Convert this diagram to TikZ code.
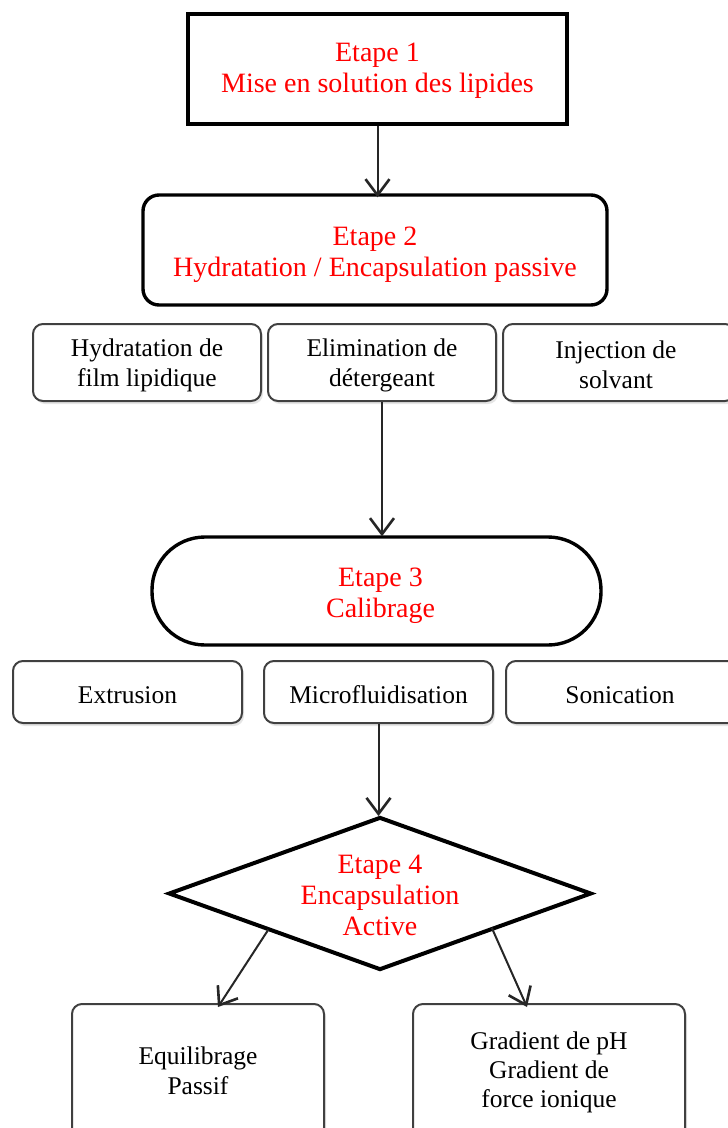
\documentclass[tikz,border=0pt]{standalone}
\usepackage{fontspec}
\setmainfont{Liberation Serif}
\usetikzlibrary{arrows.meta,shapes.geometric,shadows}
\begin{document}
\begin{tikzpicture}[x=1pt,y=-1pt,
  redtxt/.style={text=red,font=\fontsize{28}{31}\selectfont,align=center,inner sep=0pt},
  blktxt/.style={text=black,font=\fontsize{25.5}{30}\selectfont,align=center,inner sep=0pt},
  bigbox/.style={draw=black,fill=white,line width=3.4pt,inner sep=0pt},
  smallbox/.style={draw=black!75,fill=white,line width=2pt,rounded corners=10pt,inner sep=0pt,
     drop shadow={shadow xshift=2pt,shadow yshift=-3pt,opacity=0.2}},
  arr/.style={draw=black!85,line width=2pt,-{Straight Barb[length=16pt,width=24pt,line width=2.6pt]}}
]
\useasboundingbox (0,0) rectangle (728,1128);
\clip (0,0) rectangle (728,1128);
\fill[white] (0,0) rectangle (728,1128);
% Etape 1
\node[bigbox,minimum width=379pt,minimum height=110pt,
  label={[redtxt,yshift=-2pt]center:Etape 1\\Mise en solution des lipides}] (e1) at (377.5,69) {};
% Etape 2
\node[bigbox,rounded corners=16pt,minimum width=464pt,minimum height=110pt,
  label={[redtxt,yshift=-5pt]center:Etape 2\\Hydratation / Encapsulation passive}] (e2) at (375,250) {};
% row 1
\node[smallbox,minimum width=228pt,minimum height=77pt,
  label={[blktxt,yshift=-3pt]center:Hydratation de\\film lipidique}] (h1) at (147,362.5) {};
\node[smallbox,minimum width=228pt,minimum height=77pt,
  label={[blktxt,yshift=-3pt]center:Elimination de\\détergeant}] (h2) at (382,362.5) {};
\node[smallbox,minimum width=232pt,minimum height=77pt,
  label={[blktxt,yshift=-2pt,xshift=-3pt]center:Injection de\\solvant}] (h3) at (619,362.5) {};
% Etape 3
\node[bigbox,rounded corners=53pt,minimum width=449pt,minimum height=108pt,
  label={[redtxt,yshift=-5pt,xshift=4pt]center:Etape 3\\Calibrage}] (e3) at (376.5,591) {};
% row 2
\node[smallbox,minimum width=229pt,minimum height=62pt,
  label={[blktxt,yshift=-3pt]center:Extrusion}] (c1) at (127.5,692) {};
\node[smallbox,minimum width=229pt,minimum height=62pt,
  label={[blktxt,yshift=-3pt]center:Microfluidisation}] (c2) at (378.5,692) {};
\node[smallbox,minimum width=234pt,minimum height=62pt,
  label={[blktxt,yshift=-3pt,xshift=-3pt]center:Sonication}] (c3) at (623,692) {};
% Etape 4
\node[draw=black,line width=4pt,diamond,minimum width=423pt,minimum height=153pt,inner sep=0pt,
  label={[redtxt,yshift=-2pt]center:Etape 4\\Encapsulation\\Active}] (e4) at (380,893.5) {};
% bottom
\node[smallbox,minimum width=252pt,minimum height=134pt,
  label={[blktxt]center:Equilibrage\\Passif}] (p1) at (198,1071) {};
\node[smallbox,minimum width=272pt,minimum height=134pt,
  label={[blktxt,font=\fontsize{25.5}{29}\selectfont,yshift=-1pt]center:Gradient de pH\\Gradient de\\force ionique}] (p2) at (549,1071) {};
% arrows
\draw[arr] (e1.south) -- ([yshift=-4pt]e1.south |- e2.north);
\draw[arr] (h2.south) -- ([yshift=-1pt]h2.south |- e3.north);
\draw[arr] (c2.south) -- ([yshift=-1pt]c2.south |- e4.north);
\draw[arr] ([shift={(-5pt,3pt)}]e4.south west) -- ([shift={(20pt,-4pt)}]p1.north);
\draw[arr] ([shift={(5pt,5pt)}]e4.south east) -- ([shift={(-22pt,-4pt)}]p2.north);
\end{tikzpicture}
\end{document}
